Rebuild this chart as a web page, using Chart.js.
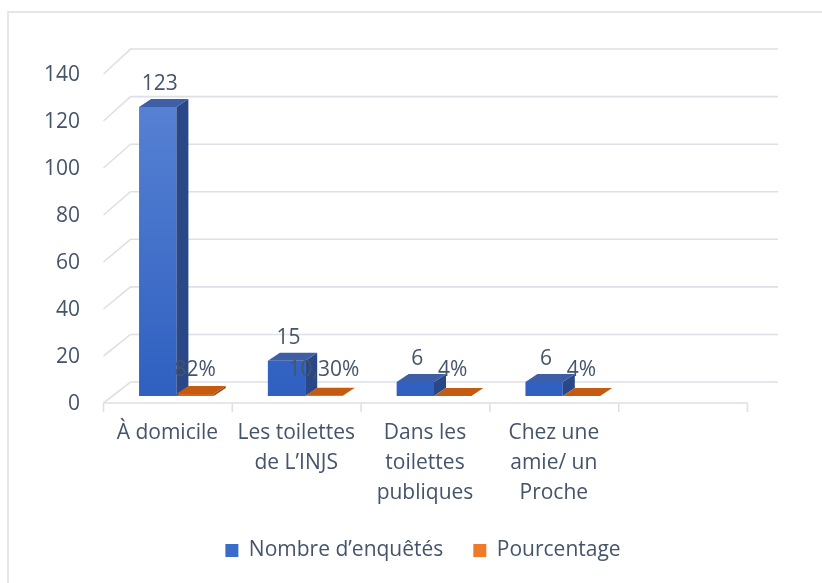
<!DOCTYPE html>
<html>
<head>
<meta charset="utf-8">
<script src="https://cdn.jsdelivr.net/npm/chart.js@4.4.1/dist/chart.umd.min.js"></script>
<style>
  html, body { margin: 0; padding: 0; background: #fff; overflow: hidden; }
  #wrap { position: relative; width: 822px; height: 583px; }
  #frame { position: absolute; left: 7px; top: 11px; width: 840px; height: 600px; border: 2px solid #e3e6ec; box-sizing: border-box; }
  #chart { position: absolute; left: 0; top: 0; }
</style>
</head>
<body>
<div id="wrap">
  <div id="frame"></div>
  <canvas id="chart" width="822" height="583"></canvas>
</div>
<script>
// data
const categories = [['À domicile'], ['Les toilettes', 'de L’INJS'], ['Dans les', 'toilettes', 'publiques'], ['Chez une', 'amie/ un', 'Proche'], ''];
const nombre = [123, 15, 6, 6, null];
const pourcentage = [0.82, 0.103, 0.04, 0.04, null];
const pctLabels = ['82%', '10,30%', '4%', '4%', ''];
const yTicks = [0, 20, 40, 60, 80, 100, 120, 140];

const TEXT = '#44546A';
const FONT = "'Open Sans', 'Liberation Sans', sans-serif";
const GRID = '#dde0e6';

// fake 3d depth
const BAR_DX = 12, BAR_DY = -8;
const FRONT_DX = -8.5, FRONT_DY = 7;

function blueFill(context) {
  const area = context.chart.chartArea;
  if (!area) return '#4472c4';
  const g = context.chart.ctx.createLinearGradient(0, area.top, 0, area.bottom);
  g.addColorStop(0, '#5b85d6');
  g.addColorStop(1, '#2f60c0');
  return g;
}

const wallsPlugin = {
  id: 'walls',
  beforeDatasetsDraw(chart) {
    const ctx = chart.ctx, a = chart.chartArea, y = chart.scales.y;
    ctx.save();
    ctx.strokeStyle = GRID;
    ctx.lineWidth = 1.6;
    yTicks.forEach(v => {
      const ym = y.getPixelForValue(v);
      const yb = a.bottom - 14 + (ym - a.bottom) * 1.012;
      ctx.beginPath();
      ctx.moveTo(a.left + FRONT_DX, ym + FRONT_DY);
      ctx.lineTo(a.left + 18.5, yb);
      ctx.lineTo(a.right + 22, yb);
      ctx.stroke();
    });
    // front edge of floor + tick marks
    const fy = a.bottom + FRONT_DY;
    ctx.beginPath();
    ctx.moveTo(a.left + FRONT_DX, fy);
    ctx.lineTo(a.right + FRONT_DX, fy);
    const step = a.width / categories.length;
    for (let i = 0; i <= categories.length; i++) {
      const xx = a.left + FRONT_DX + i * step;
      ctx.moveTo(xx, fy);
      ctx.lineTo(xx, fy + 9);
    }
    ctx.stroke();

    // y tick labels on the front plane (the axis box is too narrow for them)
    ctx.font = '21px ' + FONT;
    ctx.fillStyle = TEXT;
    ctx.textAlign = 'right';
    ctx.textBaseline = 'middle';
    yTicks.forEach(v => {
      ctx.fillText(String(v), 80, y.getPixelForValue(v) + FRONT_DY + 1);
    });
    ctx.restore();
  },
  afterDatasetsDraw(chart) {
    const ctx = chart.ctx;
    const faces = [
      { top: '#3e5fa6', side: '#2a4888' },
      { top: '#c55a11', side: '#9e460b' }
    ];
    ctx.save();
    chart.data.datasets.forEach((ds, di) => {
      chart.getDatasetMeta(di).data.forEach((bar, i) => {
        if (ds.data[i] == null) return;
        const p = bar.getProps(['x', 'y', 'base', 'width'], true);
        const l = p.x - p.width / 2, r = p.x + p.width / 2;
        ctx.fillStyle = faces[di].side;
        ctx.beginPath();
        ctx.moveTo(r, p.y);
        ctx.lineTo(r + BAR_DX, p.y + BAR_DY);
        ctx.lineTo(r + BAR_DX, p.base + BAR_DY);
        ctx.lineTo(r, p.base);
        ctx.closePath();
        ctx.fill();
        ctx.fillStyle = faces[di].top;
        ctx.beginPath();
        ctx.moveTo(l, p.y);
        ctx.lineTo(l + BAR_DX, p.y + BAR_DY);
        ctx.lineTo(r + BAR_DX, p.y + BAR_DY);
        ctx.lineTo(r, p.y);
        ctx.closePath();
        ctx.fill();
      });
    });
    // value labels
    ctx.font = '21px ' + FONT;
    ctx.fillStyle = TEXT;
    ctx.textAlign = 'center';
    ctx.textBaseline = 'middle';
    chart.getDatasetMeta(0).data.forEach((bar, i) => {
      if (nombre[i] == null) return;
      ctx.fillText(String(nombre[i]), bar.x + 2, bar.y + BAR_DY - 15);
    });
    chart.getDatasetMeta(1).data.forEach((bar, i) => {
      if (pourcentage[i] == null) return;
      ctx.fillText(pctLabels[i], bar.x, bar.base + BAR_DY - 18);
    });
    ctx.restore();
  }
};

new Chart(document.getElementById('chart'), {
  type: 'bar',
  data: {
    labels: categories,
    datasets: [
      { label: 'Nombre d’enquêtés', data: nombre, backgroundColor: blueFill, legendColor: '#3a6cc9' },
      { label: 'Pourcentage', data: pourcentage, backgroundColor: '#d8661a', legendColor: '#ee7a2c' }
    ]
  },
  options: {
    responsive: false,
    animation: false,
    layout: { padding: { left: 90, right: 66, top: 67, bottom: 12 } },
    datasets: { bar: { categoryPercentage: 0.58, barPercentage: 1 } },
    scales: {
      x: {
        grid: { display: false },
        border: { display: false },
        ticks: { color: TEXT, font: { family: FONT, size: 21, lineHeight: 1.42 }, padding: 14, labelOffset: -9, maxRotation: 0, autoSkip: false },
        afterFit: s => { s.height = 114; }
      },
      y: {
        min: 0, max: 140,
        grid: { display: false },
        border: { display: false },
        ticks: { stepSize: 20, display: false },
        afterFit: s => { s.width = 22; }
      }
    },
    plugins: {
      tooltip: { enabled: false },
      legend: {
        position: 'bottom',
        labels: {
          color: TEXT,
          font: { family: FONT, size: 21 },
          boxWidth: 13,
          boxHeight: 13,
          padding: 30,
          generateLabels: chart => chart.data.datasets.map((ds, i) => ({
            text: ds.label,
            fillStyle: ds.legendColor,
            strokeStyle: ds.legendColor,
            lineWidth: 0,
            fontColor: TEXT,
            datasetIndex: i
          }))
        }
      }
    }
  },
  plugins: [wallsPlugin]
});
</script>
</body>
</html>
